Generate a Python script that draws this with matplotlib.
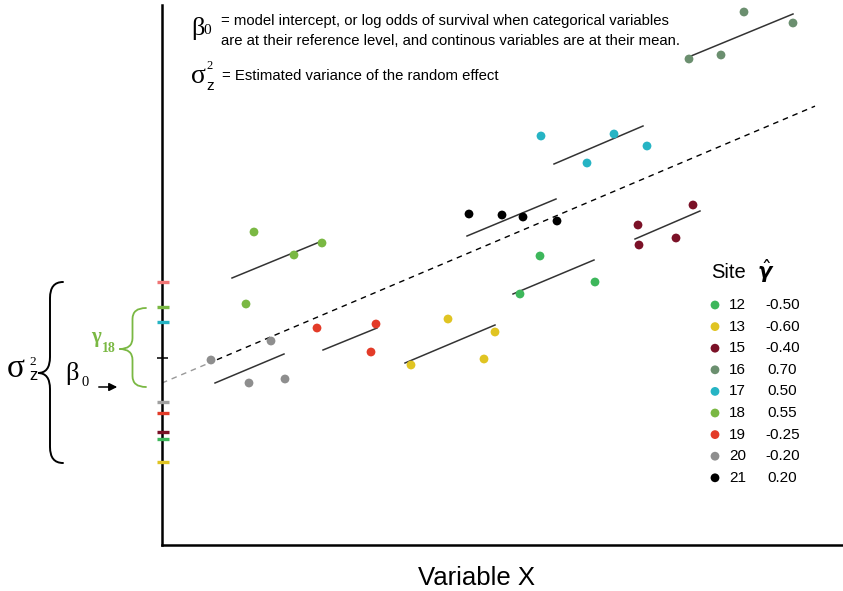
import matplotlib.pyplot as plt
from matplotlib.path import Path
from matplotlib.patches import PathPatch


# sites, their colours and the estimated random intercepts (legend)
sites = ['12', '13', '15', '16', '17', '18', '19', '20', '21']
gamma_hat = ['-0.50', '-0.60', '-0.40', '0.70', '0.50', '0.55', '-0.25', '-0.20', '0.20']
site_colors = ['#3db75b', '#e0c422', '#7b1127', '#6b8f6f', '#26b4c4',
               '#7ab843', '#e33b28', '#8e8e8e', '#000000']

# observations per site (same order as sites)
obs_x = [[35.8, 37.8, 43.3],
         [24.9, 28.6, 32.2, 33.3],
         [47.6, 47.7, 51.4, 53.1],
         [52.7, 55.9, 58.2, 63.1],
         [37.9, 42.5, 45.2, 48.5],
         [8.4, 9.2, 13.2, 16.0],
         [15.5, 20.9, 21.4],
         [4.9, 8.7, 10.9, 12.3],
         [30.7, 34.0, 36.1, 39.5]]
obs_y = [[25.1, 28.9, 26.3],
         [18.0, 22.6, 18.6, 21.3],
         [32.0, 30.0, 30.7, 34.0],
         [48.6, 49.0, 53.3, 52.2],
         [40.9, 38.2, 41.1, 39.9],
         [24.1, 31.3, 29.0, 30.2],
         [21.7, 19.3, 22.1],
         [18.5, 16.2, 20.4, 16.6],
         [33.1, 33.0, 32.8, 32.4]]

# site-level fitted lines: start / end
fit_x0 = [35.1, 24.3, 47.3, 52.9, 39.2, 7.0, 16.1, 5.3, 30.5]
fit_x1 = [43.2, 33.3, 53.8, 63.1, 48.1, 16.0, 21.5, 12.2, 39.4]
fit_y0 = [25.1, 18.2, 30.6, 48.9, 38.1, 26.7, 19.5, 16.2, 30.9]
fit_y1 = [28.5, 22.0, 33.4, 53.1, 41.9, 30.4, 21.7, 19.1, 34.6]

# population line
beta0 = 16.2
beta1 = 0.424
pop_x = [0.0, 5.5, 65.3]

# site intercepts marked on the y axis
axis_mark_y = [26.3, 23.8, 22.3, 14.3, 13.2, 11.3, 10.6, 8.3]
axis_mark_colors = ['#f07575', '#7ab843', '#26b4c4', '#a0a0a0', '#e33b28',
                    '#7b1127', '#3db75b', '#e0c422']
beta0_tick = 18.7

GREEN = '#7ab843'
SANS = 'Liberation Sans'
SERIF = 'Liberation Serif'


def brace(ax, x_end, x_spine, x_tip, y_bot, y_top, y_mid, d, color, lw):
    verts = [(x_end, y_top), (x_spine, y_top), (x_spine, y_top - d),
             (x_spine, y_mid + d),
             (x_spine, y_mid), (x_tip, y_mid),
             (x_spine, y_mid), (x_spine, y_mid - d),
             (x_spine, y_bot + d),
             (x_spine, y_bot), (x_end, y_bot)]
    codes = [Path.MOVETO, Path.CURVE3, Path.CURVE3, Path.LINETO,
             Path.CURVE3, Path.CURVE3, Path.CURVE3, Path.CURVE3,
             Path.LINETO, Path.CURVE3, Path.CURVE3]
    patch = PathPatch(Path(verts, codes), fill=False, edgecolor=color,
                      lw=lw, clip_on=False, capstyle='round')
    ax.add_patch(patch)


fig = plt.figure(figsize=(8.43, 5.91), dpi=100)
ax = fig.add_axes([162 / 843, 46 / 591, 681 / 843, 540 / 591])
ax.set_xlim(0, 68.1)
ax.set_ylim(0, 54.0)
for side in ['top', 'right']:
    ax.spines[side].set_visible(False)
for side in ['left', 'bottom']:
    ax.spines[side].set_linewidth(1.8)
ax.set_xticks([])
ax.set_yticks([])

# population-level dashed line (grey near the axis)
pop_y = [beta0 + beta1 * x for x in pop_x]
ax.plot(pop_x[:2], pop_y[:2], color='#999999', lw=1.0, dashes=(4, 3.5))
ax.plot(pop_x[1:], pop_y[1:], color='black', lw=1.0, dashes=(4, 3.5))

# site lines and observations
for i in range(len(sites)):
    ax.plot([fit_x0[i], fit_x1[i]], [fit_y0[i], fit_y1[i]],
            color='#333333', lw=1.1, zorder=2)
    ax.scatter(obs_x[i], obs_y[i], s=40, color=site_colors[i],
               edgecolors='none', zorder=3)

# coloured intercept marks on the y axis
for y, c in zip(axis_mark_y, axis_mark_colors):
    ax.plot([-0.55, 0.65], [y, y], color=c, lw=2.4, clip_on=False,
            solid_capstyle='butt', zorder=4)
ax.plot([-0.5, 0.6], [beta0_tick, beta0_tick], color='black', lw=1.1,
        clip_on=False, solid_capstyle='butt', zorder=4)

# legend
ax.text(54.9, 27.3, 'Site', fontsize=14.5, family=SANS, ha='left', va='center')
ax.text(60.35, 27.4, r'$\hat{\boldsymbol{\gamma}}$', fontsize=15,
        ha='center', va='center')
for i, (s, g) in enumerate(zip(sites, gamma_hat)):
    y = 24.0 - 2.16 * i
    ax.scatter([55.3], [y], s=40, color=site_colors[i], edgecolors='none',
               clip_on=False)
    ax.text(56.7, y, s, fontsize=11, family=SANS, ha='left', va='center')
    ax.text(62.05, y, g, fontsize=11, family=SANS, ha='center', va='center')

# top explanation
ax.text(2.95, 51.0, 'β', fontsize=19, family=SERIF, ha='left', va='baseline')
ax.text(4.15, 51.5, '0', fontsize=11, family=SERIF, ha='left', va='center')
ax.text(5.9, 52.4, '= model intercept, or log odds of survival when categorical variables',
        fontsize=10.7, family=SANS, ha='left', va='center')
ax.text(5.9, 50.4, 'are at their reference level, and continous variables are at their mean.',
        fontsize=10.7, family=SANS, ha='left', va='center')
ax.text(2.85, 46.2, 'σ', fontsize=20, family=SERIF, ha='left', va='baseline')
ax.text(4.4, 47.9, '2', fontsize=9, family=SERIF, ha='left', va='center')
ax.text(4.4, 45.9, 'z', fontsize=11, family=SANS, ha='left', va='center')
ax.text(5.95, 46.9, '= Estimated variance of the random effect',
        fontsize=10.7, family=SANS, ha='left', va='center')

# left side: variance brace, beta0 arrow, gamma_18 brace
brace(ax, -9.9, -11.2, -12.4, 8.2, 26.3, 17.2, 1.6, 'black', 1.4)
ax.text(-15.5, 16.8, 'σ', fontsize=24, family=SERIF, ha='left', va='baseline')
ax.text(-13.3, 18.3, '2', fontsize=9.5, family=SERIF, ha='left', va='center')
ax.text(-13.3, 17.0, 'z', fontsize=12, family=SANS, ha='left', va='center')
ax.text(-9.65, 16.5, 'β', fontsize=19, family=SERIF, ha='left', va='baseline')
ax.text(-8.0, 16.3, '0', fontsize=10.5, family=SERIF, ha='left', va='center')
ax.annotate('', xy=(-4.2, 15.8), xytext=(-6.6, 15.8),
            arrowprops=dict(arrowstyle='-|>', color='black', lw=1.1,
                            mutation_scale=12),
            annotation_clip=False)

brace(ax, -1.6, -2.95, -4.25, 15.8, 23.7, 19.6, 1.1, GREEN, 1.3)
ax.text(-6.6, 20.8, 'γ', fontsize=15, family=SERIF, fontweight='bold',
        color=GREEN, ha='center', va='center')
ax.text(-6.05, 19.7, '18', fontsize=10, family=SERIF, fontweight='bold',
        color=GREEN, ha='left', va='center')

ax.text(31.45, -3.3, 'Variable X', fontsize=18.5, family=SANS,
        ha='center', va='center')

fig.savefig('out.png', dpi=100)
